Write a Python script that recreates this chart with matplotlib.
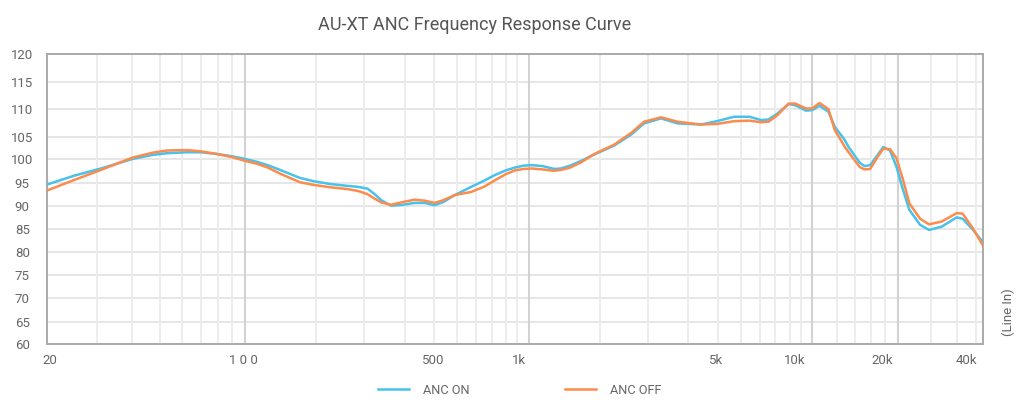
import numpy as np
import matplotlib
matplotlib.use("Agg")
import matplotlib.pyplot as plt
from matplotlib.transforms import ScaledTranslation

# ---------------- data ----------------
freq = [20, 25, 31, 40, 47, 53, 62, 70, 80, 90, 100, 110, 120, 134, 156, 175, 200,
        230, 250, 270, 285, 302, 327, 360, 395, 430, 465, 500, 548, 627, 700, 759,
        830, 894, 960, 1024, 1120, 1230, 1300, 1400, 1530, 1700, 2000, 2300, 2550,
        2930, 3350, 4050, 4600, 5300, 6000, 6600, 7000, 7500, 8250, 8700, 9500,
        10000, 10600, 11400, 12000, 13000, 13400, 14700, 15300, 16000, 17000,
        17800, 18800, 19800, 20900, 22000, 24000, 25800, 28600, 32300, 33900,
        36800, 40000]

anc_on = [94.6, 96.5, 98.0, 100.0, 100.9, 101.3, 101.5, 101.5, 101.1, 100.6, 100.0,
          99.4, 98.7, 97.6, 96.0, 95.3, 94.7, 94.3, 94.1, 93.7, 92.6, 91.2, 90.0,
          90.2, 90.6, 90.6, 90.1, 90.8, 92.3, 94.1, 95.5, 96.6, 97.6, 98.2, 98.6,
          98.7, 98.5, 97.9, 98.0, 98.6, 99.6, 101.0, 103.0, 105.4, 107.4, 108.3,
          107.4, 107.2, 107.8, 108.6, 108.6, 108.0, 108.1, 109.1, 110.9, 110.7,
          109.7, 109.8, 110.6, 109.5, 106.8, 104.3, 102.8, 99.2, 98.5, 98.7, 100.9,
          102.7, 101.9, 98.4, 93.4, 89.1, 85.9, 84.8, 85.5, 87.5, 87.2, 84.9, 82.1]

anc_off = [93.3, 95.6, 97.7, 100.3, 101.4, 101.9, 102.0, 101.7, 101.1, 100.4, 99.6,
           99.0, 98.2, 96.8, 95.1, 94.5, 94.0, 93.6, 93.2, 92.5, 91.6, 90.7, 90.2,
           90.8, 91.3, 91.1, 90.6, 91.2, 92.3, 93.0, 94.2, 95.5, 96.8, 97.6, 97.9,
           98.0, 97.8, 97.5, 97.7, 98.2, 99.3, 101.1, 103.2, 105.7, 107.7, 108.5,
           107.7, 107.2, 107.3, 107.8, 107.9, 107.6, 107.7, 108.8, 111.0, 111.0,
           110.1, 110.1, 111.1, 110.0, 106.2, 102.8, 101.6, 98.3, 97.8, 97.9, 100.5,
           102.3, 102.2, 100.2, 95.6, 90.5, 87.2, 86.0, 86.6, 88.4, 88.3, 85.2, 81.4]

x_ticks = [20, 100, 500, 1000, 5000, 10000, 20000, 40000]
x_tick_labels = ["20", "1 0 0", "500", "1k", "5k", "10k", "20k", "40k"]
y_ticks = [60, 65, 70, 75, 80, 85, 90, 95, 100, 105, 110, 115, 120]

# ---------------- layout / style ----------------
W, H, DPI = 1024, 409, 100
# pixel heights (above plot bottom) of the horizontal gridlines in the reference
y_grid_h = [0, 22.3, 46, 69, 92, 115, 138.3, 161.3, 185, 207.3, 235, 262.3, 290]
x_label_dx = [3, -2, -10, -10, -11, -18, -15, -17]
major_x = [100, 1000, 10000, 20000]
minor_fracs = [0.25, 0.42, 0.563, 0.667, 0.748, 0.814, 0.87, 0.92, 0.96]
minor_x = [30, 40, 50, 60, 70, 80, 90]
for dec in (100, 1000):
    minor_x += [dec * 10 ** f for f in minor_fracs]
minor_x += [12200, 14100, 16100, 18100, 26200, 32500, 37700]

BLUE = "#47c2ec"
ORANGE = "#fd8b4c"
TXT = "#666666"

plt.rcParams["font.family"] = ["Roboto", "DejaVu Sans"]

ext_v = [-1000] + y_ticks + [1000]
ext_h = [y_grid_h[0] - (60 + 1000) * 4.6] + y_grid_h + [y_grid_h[-1] + (1000 - 120) * 5.3]


def fwd(v):
    return np.interp(v, ext_v, ext_h)


def inv(h):
    return np.interp(h, ext_h, ext_v)


fig = plt.figure(figsize=(W / DPI, H / DPI), dpi=DPI)
ax = fig.add_axes([47 / W, 1 - 344 / H, (983 - 47) / W, (344 - 54) / H])
ax.set_xscale("log")
ax.set_yscale("function", functions=(fwd, inv))
ax.set_xlim(20, 40000)
ax.set_ylim(60, 120)

# grid
for yv in y_ticks:
    ax.axhline(yv, color="#e4e4e4", lw=1.3, zorder=0)
for xv in minor_x:
    ax.axvline(xv, color="#ececec", lw=1.3, zorder=0)
for xv in major_x:
    ax.axvline(xv, color="#d2d2d2", lw=1.5, zorder=0)

ax.plot(freq, anc_on, color=BLUE, lw=1.8, label="ANC ON", zorder=3,
        solid_joinstyle="round")
ax.plot(freq, anc_off, color=ORANGE, lw=1.8, label="ANC OFF", zorder=4,
        solid_joinstyle="round")

for s in ax.spines.values():
    s.set_color("#aaaaaa")
    s.set_linewidth(1.4)

ax.set_yticks(y_ticks)
ax.set_yticklabels([str(v) for v in y_ticks])
ax.yaxis.set_minor_locator(matplotlib.ticker.NullLocator())
ax.set_xticks(x_ticks)
ax.set_xticklabels(x_tick_labels)
ax.xaxis.set_minor_locator(matplotlib.ticker.NullLocator())
ax.tick_params(axis="both", length=0, colors=TXT, labelsize=9.5)
ax.tick_params(axis="y", pad=12)
ax.tick_params(axis="x", pad=7)
for lab in ax.get_yticklabels():
    lab.set_horizontalalignment("center")
    lab.set_transform(lab.get_transform() + ScaledTranslation(-8 / DPI, 0, fig.dpi_scale_trans))
for lab, dx in zip(ax.get_xticklabels(), x_label_dx):
    lab.set_transform(lab.get_transform() + ScaledTranslation(dx / DPI, 0, fig.dpi_scale_trans))

fig.text(475 / W, 1 - 25 / H, "AU-XT ANC Frequency Response Curve", ha="center",
         va="center", fontsize=13, color="#555555")
fig.text(1008 / W, 1 - 312 / H, "(Line In)", ha="center", va="center",
         rotation=90, fontsize=9.5, color=TXT)

leg = fig.legend(loc="center", bbox_to_anchor=(520 / W, 1 - 390 / H), ncol=2,
                 frameon=False, fontsize=9.2, handlelength=2.4, columnspacing=7.5,
                 handletextpad=1.1)
for t in leg.get_texts():
    t.set_color(TXT)

fig.savefig("out.png", dpi=DPI)
